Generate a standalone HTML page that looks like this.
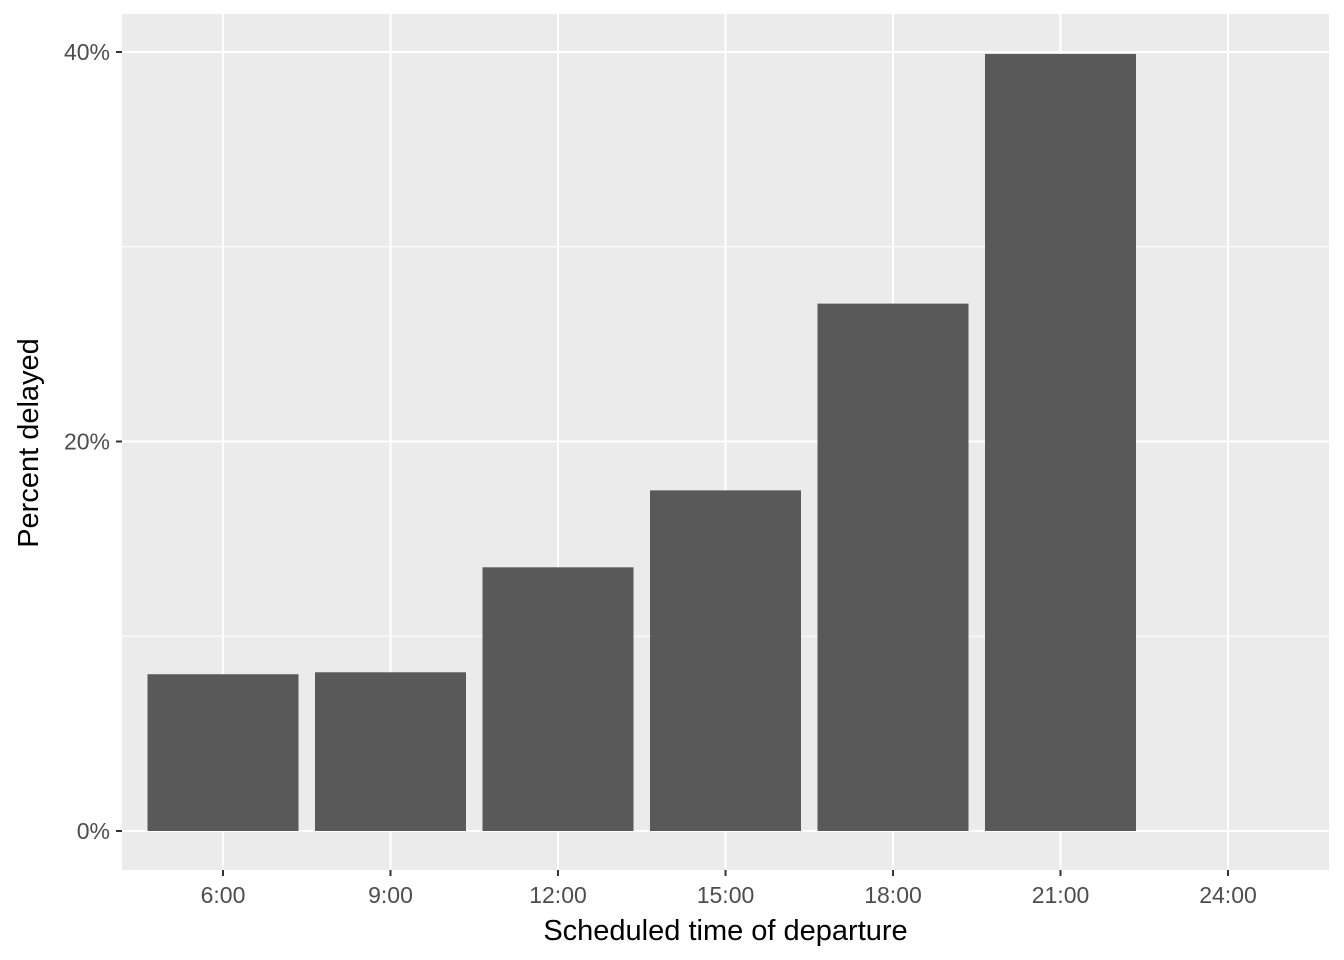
<!DOCTYPE html>
<html><head><meta charset="utf-8"><style>
body{margin:0;background:#fff;}
svg{display:block;font-family:"Liberation Sans",Arial,sans-serif;}
</style></head><body>
<svg id="chart" width="1344" height="960"></svg>
<script>
const categories=[6,9,12,15,18,21];
const values=[8.05,8.15,13.54,17.49,27.08,39.9];
const xTicks=[6,9,12,15,18,21,24];
const xTickLabels=["6:00","9:00","12:00","15:00","18:00","21:00","24:00"];
const yTicks=[0,20,40];
const yTickLabels=["0%","20%","40%"];
const yMinor=[10,30];

const svg=document.getElementById('chart');
const NS="http://www.w3.org/2000/svg";
const PL=122,PR=1329,PT=14,PB=870;
const xs=h=>223+(h-6)*(1228-223)/18;
const ys=v=>831-v*(831-52)/40;
const bw=151;
function mk(tag,attrs,parent){const e=document.createElementNS(NS,tag);for(const k in attrs)e.setAttribute(k,attrs[k]);(parent||svg).appendChild(e);return e;}
const panel=mk('rect',{x:PL,y:PT,width:PR-PL,height:PB-PT,fill:'#ebebeb'});


yMinor.forEach(v=>{const l=mk('line',{x1:PL,x2:PR,y1:ys(v),y2:ys(v),stroke:'#fff','stroke-width':1});

});
yTicks.forEach(v=>{const l=mk('line',{x1:PL,x2:PR,y1:ys(v),y2:ys(v),stroke:'#fff','stroke-width':2});

});
xTicks.forEach(h=>{const l=mk('line',{x1:xs(h),x2:xs(h),y1:PT,y2:PB,stroke:'#fff','stroke-width':2});

});
categories.forEach((c,i)=>{const r=mk('rect',{x:xs(c)-bw/2,y:ys(values[i]),width:bw,height:ys(0)-ys(values[i]),fill:'#595959'});

});
yTicks.forEach((v,i)=>{
 const t=mk('line',{x1:PL-6,x2:PL,y1:ys(v),y2:ys(v),stroke:'#333','stroke-width':2});
 
 
 const tx=mk('text',{x:PL-12,y:ys(v)+8,'text-anchor':'end','font-size':23,fill:'#4d4d4d'});tx.textContent=yTickLabels[i];
 
 });
xTicks.forEach((h,i)=>{
 const t=mk('line',{x1:xs(h),x2:xs(h),y1:PB,y2:PB+6,stroke:'#333','stroke-width':2});
 
 
 const tx=mk('text',{x:xs(h),y:903,'text-anchor':'middle','font-size':23,fill:'#4d4d4d'});tx.textContent=xTickLabels[i];
 
 });
const xt=mk('text',{x:(PL+PR)/2,y:940,'text-anchor':'middle','font-size':29,fill:'#000'});xt.textContent='Scheduled time of departure';


const yt=mk('text',{x:0,y:0,'text-anchor':'middle','font-size':29,fill:'#000',transform:'translate(38,443) rotate(-90)'});yt.textContent='Percent delayed';


</script>
</body></html>
